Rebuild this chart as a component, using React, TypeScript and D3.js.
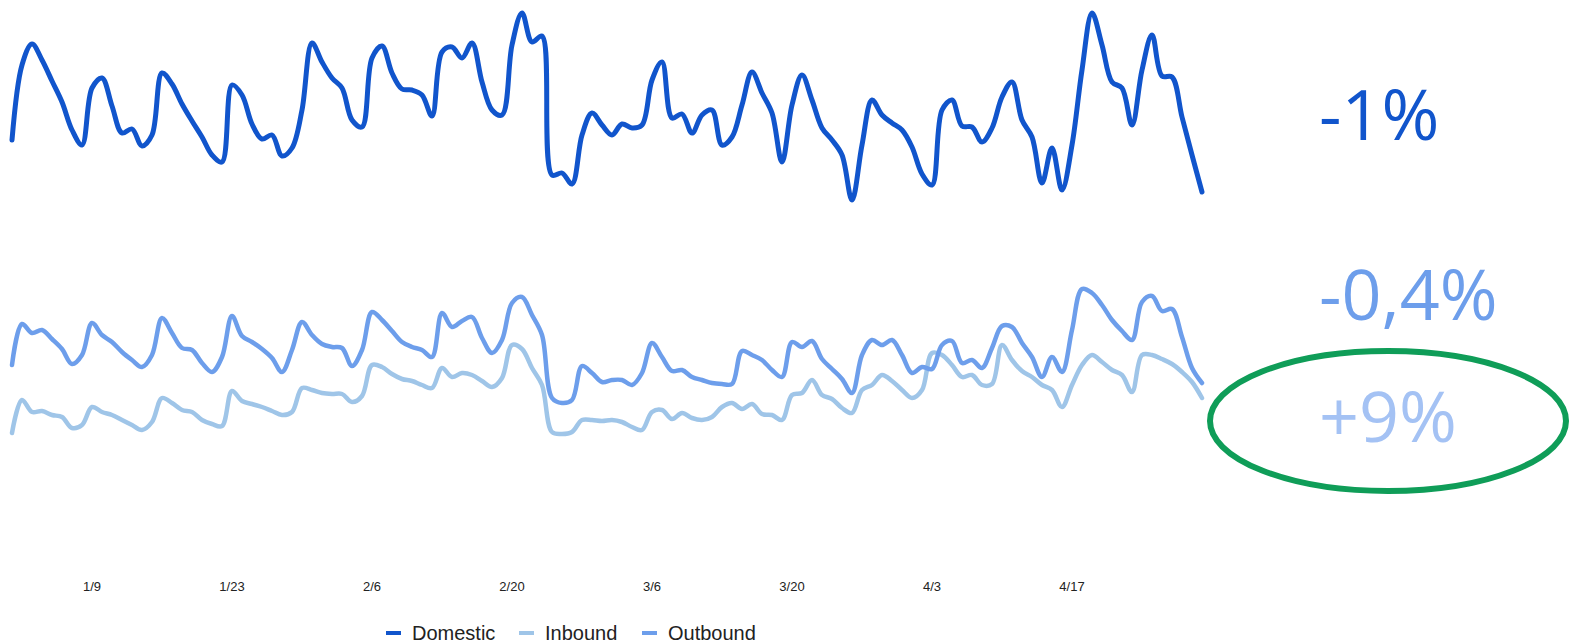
import React from 'react';
import * as d3 from 'd3';

// daily trip index, 1 Jan – 30 Apr 2023 (no y axis in the source, so units are relative)
const domestic = [
  360, 435, 456, 440, 419, 398, 370, 355, 412, 422, 394, 367, 371, 354, 365, 427, 416, 396, 379, 363, 345, 338, 415, 405, 376, 361, 365, 344, 352, 390,
  457, 438, 422, 412, 380, 373, 442, 454, 427, 411, 410, 405, 384, 448, 453, 442, 457, 418, 390, 385, 455, 487, 458, 464, 325, 327, 316, 365, 387, 375,
  365, 376, 372, 375, 420, 438, 382, 386, 367, 385, 390, 355, 363, 395, 428, 407, 387, 338, 395, 425, 400, 372, 360, 345, 300, 355, 400, 385, 377, 370,
  353, 326, 315, 390, 400, 374, 373, 358, 372, 403, 418, 380, 363, 317, 352, 310, 355, 430, 487, 455, 418, 412, 375, 430, 465, 424, 423, 383, 345, 308,
];
const outbound = [
  135, 176, 167, 170, 161, 151, 136, 145, 177, 165, 158, 148, 140, 133, 145, 182, 167, 152, 150, 137, 128, 143, 184, 164, 158, 151, 142, 128, 150, 178,
  165, 156, 153, 152, 134, 150, 188, 180, 169, 158, 153, 150, 143, 187, 173, 179, 183, 162, 147, 160, 197, 203, 185, 165, 102, 97, 100, 134, 127, 118,
  120, 120, 115, 127, 157, 143, 129, 130, 123, 120, 117, 116, 116, 149, 145, 140, 130, 123, 158, 153, 159, 141, 131, 121, 107, 145, 160, 155, 160, 145,
  127, 133, 131, 155, 159, 137, 140, 132, 152, 174, 173, 157, 143, 123, 143, 128, 170, 211, 207, 195, 180, 169, 160, 198, 204, 189, 191, 163, 132, 117,
];
const inbound = [
  67, 100, 88, 89, 85, 83, 72, 75, 93, 88, 85, 80, 75, 70, 78, 102, 97, 90, 88, 80, 76, 74, 109, 99, 96, 93, 89, 85, 88, 112,
  110, 107, 106, 106, 98, 104, 135, 133, 126, 121, 119, 115, 112, 132, 123, 127, 125, 119, 113, 122, 155, 151, 132, 115, 68, 66, 68, 80, 80, 79,
  80, 78, 73, 70, 88, 90, 81, 87, 82, 80, 83, 93, 97, 91, 96, 86, 85, 80, 105, 107, 120, 105, 101, 92, 87, 110, 115, 125, 119, 110,
  102, 110, 147, 145, 135, 123, 125, 115, 116, 155, 140, 129, 123, 115, 110, 93, 115, 135, 145, 138, 130, 125, 108, 145, 145, 141, 136, 128, 118, 102,
];

const tickLabels = ['1/9', '1/23', '2/6', '2/20', '3/6', '3/20', '4/3', '4/17'];

const seriesNames = ['Domestic', 'Inbound', 'Outbound'];
const changeLabels = ['-1%', '-0,4%', '+9%'];

const COLORS: Record<string, string> = {
  Domestic: '#1155cc',
  Inbound: '#9fc5e8',
  Outbound: '#6d9eeb',
};

const W = 1572;
const H = 644;

const days = d3.timeDay.range(new Date(2023, 0, 1), new Date(2023, 4, 1));

export default function App() {
  const x = d3.scaleTime()
    .domain([days[0], days[days.length - 1]])
    .range([12, 1202]);
  const y = d3.scaleLinear().domain([0, 500]).range([500, 0]);

  const line = d3.line<number>()
    .x((_, i) => x(days[i]))
    .y(d => y(d))
    .curve(d3.curveCatmullRom.alpha(0.5));

  const series: [string, number[], number][] = [
    ['Inbound', inbound, 4.5],
    ['Outbound', outbound, 4.5],
    ['Domestic', domestic, 5],
  ];

  const parseTick = d3.timeParse('%Y/%m/%d');
  const ticks = tickLabels.map(t => ({ label: t, date: parseTick('2023/' + t)! }));

  // big change labels on the right
  const changeStyle = [
    { fill: COLORS.Domestic, y: 140 },
    { fill: COLORS.Outbound, y: 320 },
    { fill: '#a4c2f4', y: 442 },
  ];

  const legendX = [386, 519, 642];

  return (
    <svg
      width={W}
      height={H}
      style={{ position: 'absolute', left: 0, top: 0, background: '#fff' }}
    >
      <g fill="none" strokeLinejoin="round" strokeLinecap="round">
        {series.map(([name, vals, sw]) => (
          <path key={name} d={line(vals) || ''} stroke={COLORS[name]} strokeWidth={sw} />
        ))}
      </g>

      <g fontFamily="Arial, 'Liberation Sans', sans-serif" fontSize={13} fill="#222" textAnchor="middle">
        {ticks.map(t => (
          <text key={t.label} x={x(t.date)} y={591}>{t.label}</text>
        ))}
      </g>

      <g fontFamily="'Open Sans', Roboto, sans-serif" fontWeight={400} fontSize={70}>
        {changeLabels.map((lab, i) => (
          <text key={lab} x={1319} y={changeStyle[i].y} fill={changeStyle[i].fill}>{lab}</text>
        ))}
      </g>

      <ellipse cx={1388} cy={421} rx={178} ry={70} fill="none" stroke="#0f9d58" strokeWidth={6} />

      <g fontFamily="Arial, 'Liberation Sans', sans-serif" fontSize={20} fill="#222">
        {seriesNames.map((name, i) => (
          <g key={name} transform={`translate(${legendX[i]},633)`}>
            <line x1={0} x2={15} y1={0} y2={0} stroke={COLORS[name]} strokeWidth={4} />
            <text x={26} y={7}>{name}</text>
          </g>
        ))}
      </g>
    </svg>
  );
}
